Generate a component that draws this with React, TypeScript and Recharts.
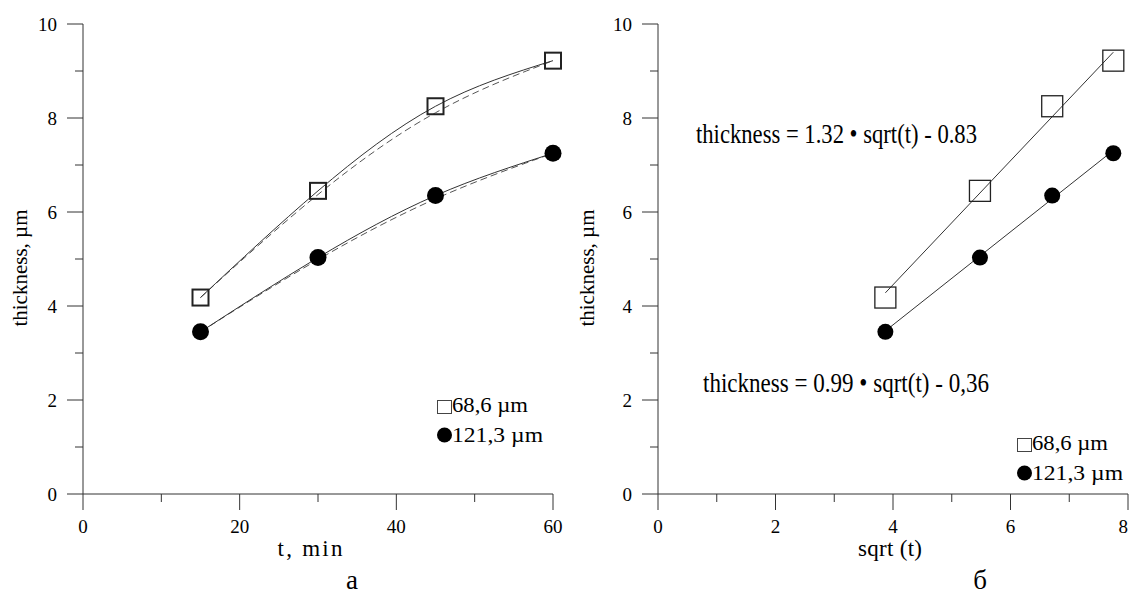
import React from 'react';
import { ComposedChart, Line, Scatter, XAxis, YAxis, Customized } from 'recharts';

// measurements: film thickness (µm) vs oxidation time
const times = [15, 30, 45, 60];
const sqrtTimes = [3.87, 5.48, 6.71, 7.75];
const thin686 = [4.18, 6.45, 8.25, 9.22];
const thick1213 = [3.45, 5.03, 6.35, 7.25];

// linear fits drawn on the sqrt(t) panel (end points)
const fitX = [3.87, 7.75];
const fit686 = [4.28, 9.4];
const fit1213 = [3.47, 7.31];

const yTicks = [0, 1, 2, 3, 4, 5, 6, 7, 8, 9, 10];
const tTicks = [0, 10, 20, 30, 40, 50, 60];
const sqrtTicks = [0, 1, 2, 3, 4, 5, 6, 7, 8];
const legendLabels = ['68,6 µm', '121,3 µm'];
const equations = ['thickness = 1.32 • sqrt(t) - 0.83', 'thickness = 0.99 • sqrt(t) - 0,36'];

const FONT = 'Liberation Serif, Times New Roman, serif';
const AXIS = '#333';

const zip = (xs: number[], ys: number[]) => xs.map((x, i) => ({ x, y: ys[i] }));

function BottomTick(props: any) {
  const { x, y, payload, step, maxX } = props;
  const major = payload.value % step === 0;
  // keep the last label inside the picture (the original clips it at the edge)
  const atEdge = maxX !== undefined && x + 6 > maxX;
  return (
    <g>
      <line x1={x} y1={y} x2={x} y2={y + (major ? 16 : 8)} stroke={AXIS} />
      {major && (
        <text
          x={atEdge ? maxX - 1 : x}
          y={y + 39}
          textAnchor={atEdge ? 'end' : 'middle'}
          fontSize={19}
          style={{ fontFamily: FONT }}
          fill="#000"
        >
          {payload.value}
        </text>
      )}
    </g>
  );
}

function LeftTick(props: any) {
  const { x, y, payload } = props;
  const major = payload.value % 2 === 0;
  return (
    <g>
      <line x1={x - (major ? 16 : 8)} y1={y} x2={x} y2={y} stroke={AXIS} />
      {major && (
        <text x={x - 26} y={y + 6.5} textAnchor="end" fontSize={19} style={{ fontFamily: FONT }} fill="#000">
          {payload.value}
        </text>
      )}
    </g>
  );
}

const square = (size: number, sw: number) => (p: any) => (
  <rect
    key={`sq-${p.index}-${p.cx}`}
    x={p.cx - size / 2}
    y={p.cy - size / 2}
    width={size}
    height={size}
    fill="none"
    stroke="#222"
    strokeWidth={sw}
  />
);

const disc = (r: number) => (p: any) => <circle key={`c-${p.index}-${p.cx}`} cx={p.cx} cy={p.cy} r={r} fill="#000" />;

const yLabel = (bx: number) => () =>
  (
    <text
      x={bx}
      y={268}
      transform={`rotate(-90 ${bx} 268)`}
      textAnchor="middle"
      fontSize={21}
      style={{ fontFamily: FONT }}
      fill="#000"
    >
      thickness, µm
    </text>
  );

const xLabel = (title: string, tx: number, titleLen: number, panel: string, px: number) => () =>
  (
    <g style={{ fontFamily: FONT }} fill="#000">
      <text x={tx} y={556} textAnchor="middle" fontSize={23} textLength={titleLen} lengthAdjust="spacing">
        {title}
      </text>
      <text x={px} y={589} textAnchor="middle" fontSize={27}>
        {panel}
      </text>
    </g>
  );

function Legend({ dx, y0 }: { dx: number; y0: number }) {
  return (
    <g style={{ fontFamily: FONT }} fontSize={21} fill="#000">
      <rect x={dx + 0.5} y={y0 + 0.5} width={14} height={13} fill="none" stroke="#444" strokeWidth={1} />
      <text x={dx + 15} y={y0 + 12} textLength={76} lengthAdjust="spacingAndGlyphs">
        {legendLabels[0]}
      </text>
      <circle cx={dx + 7.5} cy={y0 + 35} r={7.5} fill="#000" />
      <text x={dx + 15} y={y0 + 42} textLength={91} lengthAdjust="spacingAndGlyphs">
        {legendLabels[1]}
      </text>
    </g>
  );
}

function Equations() {
  return (
    <g style={{ fontFamily: FONT }} fontSize={27} fill="#000">
      <text x={131} y={143} textLength={281} lengthAdjust="spacingAndGlyphs">
        {equations[0]}
      </text>
      <text x={138} y={392} textLength={286} lengthAdjust="spacingAndGlyphs">
        {equations[1]}
      </text>
    </g>
  );
}

function TimePanel() {
  return (
    <ComposedChart width={565} height={597} margin={{ top: 24, right: 12, bottom: 73, left: 23 }}>
      <XAxis
        type="number"
        dataKey="x"
        domain={[0, 60]}
        ticks={tTicks}
        interval={0}
        tickSize={0}
        tickMargin={0}
        tickLine={false}
        stroke={AXIS}
        height={30}
        tick={(p: any) => <BottomTick {...p} step={20} />}
        label={{ content: xLabel('t, min', 310, 65, 'а', 352) }}
      />
      <YAxis
        type="number"
        dataKey="y"
        domain={[0, 10]}
        ticks={yTicks}
        interval={0}
        tickSize={0}
        tickMargin={0}
        tickLine={false}
        stroke={AXIS}
        width={60}
        tick={(p: any) => <LeftTick {...p} />}
        label={{ content: yLabel(27) }}
      />
      <Line data={zip(times, thin686)} dataKey="y" type="basis" stroke="#555" strokeWidth={1} strokeDasharray="7 4" dot={false} isAnimationActive={false} />
      <Line data={zip(times, thick1213)} dataKey="y" type="basis" stroke="#555" strokeWidth={1} strokeDasharray="7 4" dot={false} isAnimationActive={false} />
      <Line data={zip(times, thin686)} dataKey="y" type="natural" stroke="#333" strokeWidth={1} dot={square(16, 2)} isAnimationActive={false} />
      <Line data={zip(times, thick1213)} dataKey="y" type="natural" stroke="#333" strokeWidth={1} dot={disc(8.5)} isAnimationActive={false} />
      <Customized component={() => <Legend dx={437} y0={400} />} />
    </ComposedChart>
  );
}

function SqrtPanel() {
  return (
    <ComposedChart width={564} height={597} margin={{ top: 24, right: 1, bottom: 73, left: 33 }}>
      <XAxis
        type="number"
        dataKey="x"
        domain={[0, 8]}
        ticks={sqrtTicks}
        interval={0}
        tickSize={0}
        tickMargin={0}
        tickLine={false}
        stroke={AXIS}
        height={30}
        tick={(p: any) => <BottomTick {...p} step={2} maxX={564} />}
        label={{ content: xLabel('sqrt (t)', 325, 64, 'б', 415) }}
      />
      <YAxis
        type="number"
        dataKey="y"
        domain={[0, 10]}
        ticks={yTicks}
        interval={0}
        tickSize={0}
        tickMargin={0}
        tickLine={false}
        stroke={AXIS}
        width={60}
        tick={(p: any) => <LeftTick {...p} />}
        label={{ content: yLabel(29) }}
      />
      <Line data={zip(fitX, fit686)} dataKey="y" type="linear" stroke="#333" strokeWidth={1} dot={false} isAnimationActive={false} />
      <Line data={zip(fitX, fit1213)} dataKey="y" type="linear" stroke="#333" strokeWidth={1} dot={false} isAnimationActive={false} />
      <Scatter data={zip(sqrtTimes, thin686)} dataKey="y" shape={square(21, 1.3)} isAnimationActive={false} />
      <Scatter data={zip(sqrtTimes, thick1213)} dataKey="y" shape={disc(8)} isAnimationActive={false} />
      <Customized component={Equations} />
      <Customized component={() => <Legend dx={452} y0={438} />} />
    </ComposedChart>
  );
}

export default function App() {
  return (
    <div style={{ position: 'absolute', left: 0, top: 0, width: 1129, height: 597, background: '#fff', fontFamily: FONT }}>
      <div style={{ position: 'absolute', left: 0, top: 0 }}>
        <TimePanel />
      </div>
      <div style={{ position: 'absolute', left: 565, top: 0 }}>
        <SqrtPanel />
      </div>
    </div>
  );
}
